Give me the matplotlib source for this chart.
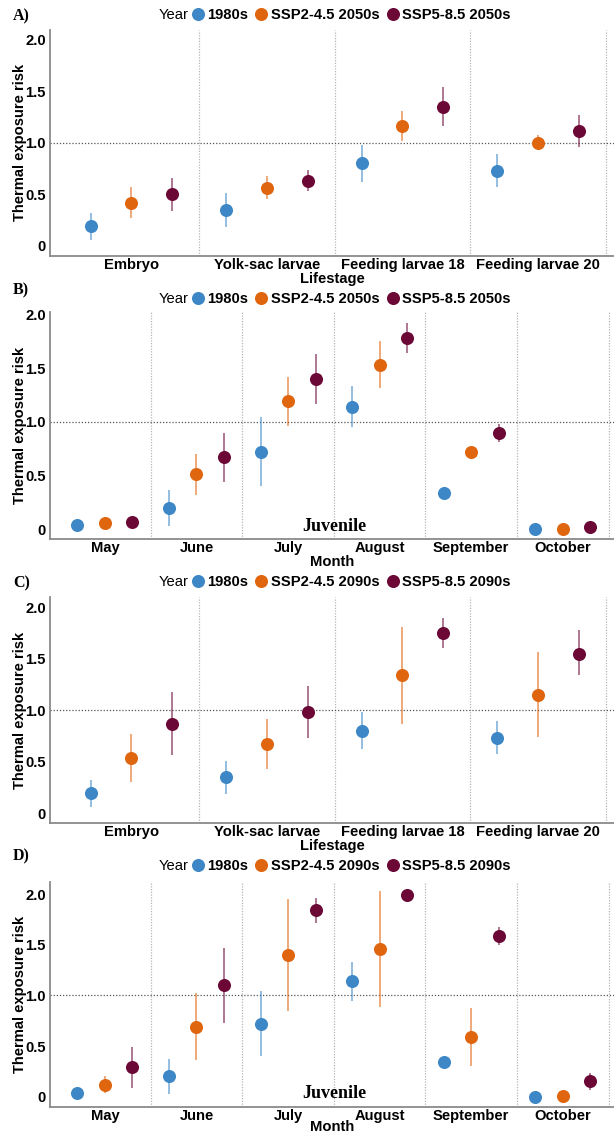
import matplotlib
matplotlib.use("Agg")
import matplotlib.pyplot as plt
from matplotlib.lines import Line2D
import numpy as np

# ---------------- data ----------------
lifestages = ["Embryo", "Yolk-sac larvae", "Feeding larvae 18", "Feeding larvae 20"]
months = ["May", "June", "July", "August", "September", "October"]

# Panel A (lifestage, 2050s)
a_1980 = [0.19, 0.35, 0.80, 0.73]
a_1980_lo = [0.06, 0.18, 0.62, 0.57]
a_1980_hi = [0.32, 0.51, 0.98, 0.89]
a_ssp2 = [0.42, 0.56, 1.16, 1.00]
a_ssp2_lo = [0.27, 0.45, 1.02, 0.93]
a_ssp2_hi = [0.57, 0.68, 1.31, 1.08]
a_ssp5 = [0.50, 0.63, 1.35, 1.12]
a_ssp5_lo = [0.34, 0.53, 1.16, 0.96]
a_ssp5_hi = [0.66, 0.74, 1.54, 1.27]

# Panel B (month, 2050s)
b_1980 = [0.04, 0.20, 0.72, 1.14, 0.34, 0.00]
b_1980_lo = [0.04, 0.03, 0.40, 0.95, 0.34, 0.00]
b_1980_hi = [0.04, 0.37, 1.04, 1.33, 0.34, 0.00]
b_ssp2 = [0.06, 0.51, 1.19, 1.53, 0.72, 0.00]
b_ssp2_lo = [0.06, 0.32, 0.96, 1.31, 0.72, 0.00]
b_ssp2_hi = [0.06, 0.70, 1.42, 1.75, 0.72, 0.00]
b_ssp5 = [0.07, 0.67, 1.40, 1.78, 0.90, 0.02]
b_ssp5_lo = [0.07, 0.44, 1.17, 1.64, 0.81, 0.02]
b_ssp5_hi = [0.07, 0.90, 1.63, 1.92, 0.98, 0.02]

# Panel C (lifestage, 2090s)
c_1980 = [0.19, 0.35, 0.80, 0.73]
c_1980_lo = [0.06, 0.18, 0.62, 0.57]
c_1980_hi = [0.32, 0.51, 0.98, 0.89]
c_ssp2 = [0.53, 0.67, 1.34, 1.15]
c_ssp2_lo = [0.30, 0.43, 0.87, 0.74]
c_ssp2_hi = [0.77, 0.91, 1.81, 1.57]
c_ssp5 = [0.87, 0.98, 1.75, 1.55]
c_ssp5_lo = [0.56, 0.73, 1.60, 1.34]
c_ssp5_hi = [1.18, 1.23, 1.90, 1.78]

# Panel D (month, 2090s)
d_1980 = [0.04, 0.20, 0.72, 1.14, 0.34, 0.00]
d_1980_lo = [0.04, 0.03, 0.40, 0.95, 0.34, 0.00]
d_1980_hi = [0.04, 0.37, 1.04, 1.33, 0.34, 0.00]
d_ssp2 = [0.12, 0.69, 1.40, 1.46, 0.59, 0.01]
d_ssp2_lo = [0.04, 0.36, 0.85, 0.89, 0.30, 0.01]
d_ssp2_hi = [0.20, 1.02, 1.95, 2.03, 0.88, 0.01]
d_ssp5 = [0.29, 1.10, 1.84, 1.99, 1.59, 0.15]
d_ssp5_lo = [0.09, 0.73, 1.72, 1.99, 1.50, 0.07]
d_ssp5_hi = [0.49, 1.47, 1.96, 1.99, 1.68, 0.23]

legend_2050 = ["1980s", "SSP2-4.5 2050s", "SSP5-8.5 2050s"]
legend_2090 = ["1980s", "SSP2-4.5 2090s", "SSP5-8.5 2090s"]
yticks = [0, 0.5, 1.0, 1.5, 2.0]
ytick_labels = ["0", "0.5", "1.0", "1.5", "2.0"]

colors = ["#3d87c6", "#e0650f", "#6b0836"]
dodge = [-0.3, 0.0, 0.3]

SANS = "Liberation Sans"
SERIF = "Liberation Serif"
FS = 10.6

W, H = 614, 1133
fig = plt.figure(figsize=(W / 100, H / 100), dpi=100)


def fy(px):
    return 1 - px / H


def fx(px):
    return px / W


def panel(top_px, bot_px, ylim, cats, series, xlabel, legend_labels, letter,
          letter_y, legend_y, juvenile=False, xlabelpad=0.0):
    ax = fig.add_axes([fx(50), fy(bot_px), 1 - fx(50), (bot_px - top_px) / H])
    n = len(cats)
    x = np.arange(1, n + 1)
    ax.set_xlim(0.4, n + 0.56)
    ax.set_ylim(*ylim)
    for b in np.arange(1.5, n + 0.6, 1.0):
        ax.axvline(b, color="#b5b5b5", lw=0.9, ls=(0, (1, 1.2)), zorder=1)
    ax.axhline(1.0, color="#555555", lw=0.9, ls=(0, (1, 1.5)), zorder=1)
    for k, (vals, lo, hi) in enumerate(series):
        xs = x + dodge[k]
        ax.vlines(xs, lo, hi, color=colors[k], alpha=0.55, lw=1.4, zorder=2)
        ax.plot(xs, vals, "o", ms=9.4, color=colors[k], mec="none", zorder=3)
    ax.set_xticks(x)
    ax.set_xticklabels(cats, fontfamily=SANS, fontweight="bold", fontsize=FS)
    ax.set_yticks(yticks)
    ax.set_yticklabels(ytick_labels, fontfamily=SANS, fontweight="bold", fontsize=FS)
    ax.tick_params(axis="both", length=0, pad=1.5, colors="black")
    ax.tick_params(axis="y", pad=3)
    for s in ["top", "right"]:
        ax.spines[s].set_visible(False)
    for s in ["left", "bottom"]:
        ax.spines[s].set_color("#8a8a8a")
        ax.spines[s].set_linewidth(1.3)
    ax.set_xlabel(xlabel, fontfamily=SANS, fontweight="bold", fontsize=FS,
                  labelpad=xlabelpad)
    ax.set_ylabel("Thermal exposure risk", fontfamily=SANS, fontweight="bold",
                  fontsize=FS, labelpad=-1)
    if juvenile:
        ax.text(3.5, 0.03, "Juvenile", fontfamily=SERIF, fontweight="bold",
                fontsize=13, ha="center", va="center", zorder=4)
    fig.text(fx(13), fy(letter_y), letter, fontfamily=SERIF, fontweight="bold",
             fontsize=11.5, ha="left", va="center")
    handles = [Line2D([], [], marker="o", ls="none", ms=9.4, color=c, mec="none")
               for c in colors]
    fig.legend(handles, legend_labels, loc="center left",
               bbox_to_anchor=(fx(191), fy(legend_y)), ncol=3, frameon=False,
               handlelength=0.9, handletextpad=0.2, columnspacing=0.45,
               borderaxespad=0, borderpad=0,
               prop={"family": SANS, "weight": "bold", "size": FS})
    fig.text(fx(189), fy(legend_y), "Year", fontfamily=SANS, fontsize=FS,
             ha="right", va="center")
    return ax


panel(29.7, 256, (-0.1, 2.1), lifestages,
      [(a_1980, a_1980_lo, a_1980_hi), (a_ssp2, a_ssp2_lo, a_ssp2_hi),
       (a_ssp5, a_ssp5_lo, a_ssp5_hi)],
      "Lifestage", legend_2050, "A)", 16, 15)
panel(311.7, 539.3, (-0.093, 2.024), months,
      [(b_1980, b_1980_lo, b_1980_hi), (b_ssp2, b_ssp2_lo, b_ssp2_hi),
       (b_ssp5, b_ssp5_lo, b_ssp5_hi)],
      "Month", legend_2050, "B)", 290, 299, juvenile=True)
panel(597, 823.3, (-0.1, 2.1), lifestages,
      [(c_1980, c_1980_lo, c_1980_hi), (c_ssp2, c_ssp2_lo, c_ssp2_hi),
       (c_ssp5, c_ssp5_lo, c_ssp5_hi)],
      "Lifestage", legend_2090, "C)", 583, 582)
panel(881.7, 1106.7, (-0.099, 2.124), months,
      [(d_1980, d_1980_lo, d_1980_hi), (d_ssp2, d_ssp2_lo, d_ssp2_hi),
       (d_ssp5, d_ssp5_lo, d_ssp5_hi)],
      "Month", legend_2090, "D)", 856, 866, juvenile=True, xlabelpad=-2.0)

fig.savefig("out.png", dpi=100)
